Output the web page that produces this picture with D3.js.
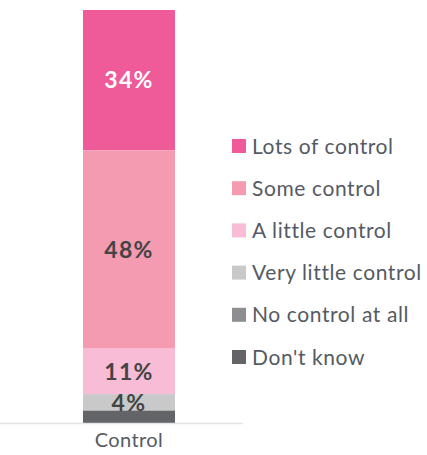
<!DOCTYPE html>
<html>
<head>
<meta charset="utf-8">
<script src="https://cdn.jsdelivr.net/npm/d3@7"></script>
<style>
  body { margin: 0; background: #fff; }
  svg { display: block; }
</style>
</head>
<body>
<div id="chart"></div>
<script>
// data
var categories = ["Control"]
var seriesNames = ["Lots of control", "Some control", "A little control", "Very little control", "No control at all", "Don't know"]
var seriesValues = [34, 48, 11, 4, 0, 3]
var seriesColors = ["#ef5a98", "#f49bb2", "#f8bcd6", "#c9c9c9", "#8d8e92", "#636468"]
var labelColors = ["#ffffff", "#444444", "#444444", "#444444", "#444444", "#444444"]

var width = 427
var height = 455
var margin = {top: 10, bottom: 32, left: 0}

var svg = d3.select("#chart").append("svg")
    .attr("width", width)
    .attr("height", height)

var x = d3.scaleBand()
    .domain(categories)
    .range([37, 221])
    .paddingInner(0)
    .paddingOuter(0.5)

var y = d3.scaleLinear()
    .domain([0, 100])
    .range([height - margin.bottom, margin.top])

// build stack rows, first series on top
var row = {cat: categories[0]}
seriesNames.forEach((s, i) => row[s] = seriesValues[i])
var stacked = d3.stack().keys(seriesNames).order(d3.stackOrderReverse)([row])

var g = svg.append("g")

g.selectAll("rect")
    .data(stacked)
    .enter()
    .append("rect")
    .attr("x", (d) => x(d[0].data.cat))
    .attr("width", x.bandwidth())
    .attr("y", (d) => y(d[0][1]))
    .attr("height", (d) => y(d[0][0]) - y(d[0][1]))
    .attr("fill", (d) => seriesColors[seriesNames.indexOf(d.key)])

// value labels, only for segments big enough
g.selectAll("text.val")
    .data(stacked.filter((d) => seriesValues[seriesNames.indexOf(d.key)] >= 4))
    .enter()
    .append("text")
    .attr("class", "val")
    .attr("x", (d) => x(d[0].data.cat) + x.bandwidth() / 2)
    .attr("y", (d) => (y(d[0][0]) + y(d[0][1])) / 2)
    .attr("dy", "0.36em")
    .attr("text-anchor", "middle")
    .attr("font-family", "Lato, sans-serif")
    .attr("font-weight", "bold")
    .attr("font-size", "23px")
    .attr("letter-spacing", "1.3px")
    .attr("fill", (d) => labelColors[seriesNames.indexOf(d.key)])
    .text((d) => d[0][1] - d[0][0] + "%")

// x axis
var xAxis = svg.append("g")
    .attr("transform", "translate(0," + (y(0) + 0.5) + ")")
    .call(d3.axisBottom(x).tickSize(0).tickPadding(9))
xAxis.select(".domain").attr("stroke", "#e3e3e3").attr("stroke-width", 1.5)
    .attr("d", "M0,0H243")
xAxis.selectAll("text")
    .attr("font-family", "Lato, sans-serif")
    .attr("font-size", "20px")
    .attr("letter-spacing", "0.4px")
    .attr("fill", "#555a63")

// legend
var legend = svg.append("g")
    .attr("transform", "translate(232,139)")

var item = legend.selectAll("g")
    .data(seriesNames)
    .enter()
    .append("g")
    .attr("transform", (d, i) => "translate(0," + i * 42.2 + ")")

item.append("rect")
    .attr("width", 14)
    .attr("height", 14)
    .attr("fill", (d, i) => seriesColors[i])

item.append("text")
    .attr("x", 20)
    .attr("y", 7)
    .attr("dy", "0.36em")
    .attr("font-family", "Lato, sans-serif")
    .attr("font-size", "21px")
    .attr("letter-spacing", "0.6px")
    .attr("fill", "#555a63")
    .text((d) => d)
</script>
</body>
</html>
